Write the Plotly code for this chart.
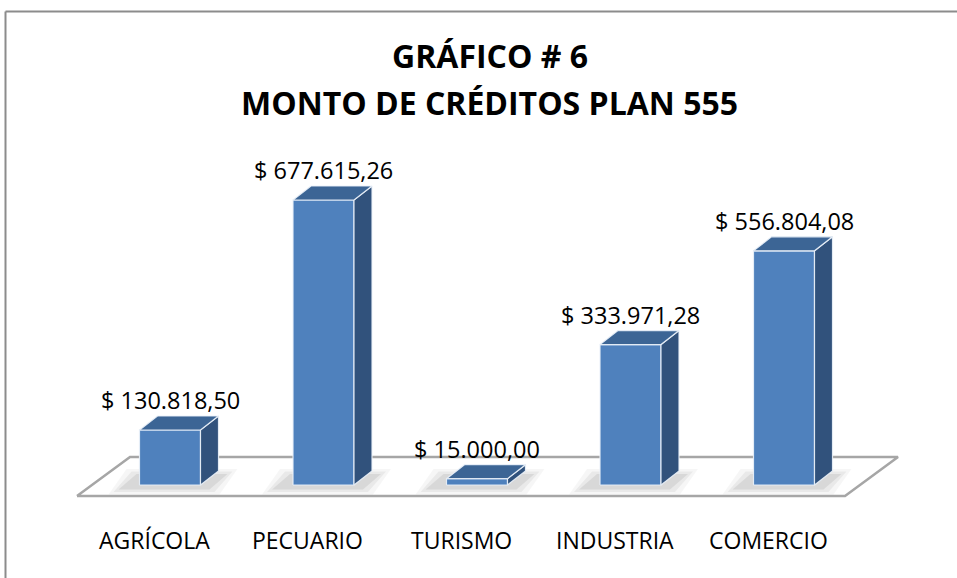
import plotly.graph_objects as go

# ---- data ----
categories = ["AGRÍCOLA", "PECUARIO", "TURISMO", "INDUSTRIA", "COMERCIO"]
values = [130818.50, 677615.26, 15000.00, 333971.28, 556804.08]
value_labels = ["$ 130.818,50", "$ 677.615,26", "$ 15.000,00", "$ 333.971,28", "$ 556.804,08"]
title_lines = ["GRÁFICO # 6", "MONTO DE CRÉDITOS PLAN 555"]

# ---- geometry (pixel-derived constants for the pseudo-3D look) ----
W, H = 957, 578
X_PX = 153.5            # pixels per category
X0_PX = 170             # pixel of first category centre
Y_BASE_PX = 485         # pixel of value 0
Y_PER_PX = max(values) / 285.0
half_w = 30.5 / X_PX
dx = 18 / X_PX
dy = 14 * Y_PER_PX

x_range = [-X0_PX / X_PX, (W - X0_PX) / X_PX]
y_range = [-(H - Y_BASE_PX) * Y_PER_PX, Y_BASE_PX * Y_PER_PX]

FRONT = "#4F81BD"
SIDE = "#31527C"
TOP = "#3C6595"
EDGE = "rgba(235,242,250,0.9)"

fig = go.Figure()

def poly(xs, ys, fill, line_color=None, lw=0):
    fig.add_trace(go.Scatter(
        x=xs + [xs[0]], y=ys + [ys[0]], mode="lines", fill="toself",
        fillcolor=fill, line=dict(color=line_color or fill, width=lw),
        hoverinfo="skip", showlegend=False))

# floor
f_front = -11 * Y_PER_PX
f_back = 28 * Y_PER_PX
fx_l, fx_r = (77 - X0_PX) / X_PX, (845 - X0_PX) / X_PX
fdx = 53 / X_PX
poly([fx_l, fx_r, fx_r + fdx, fx_l + fdx], [f_front, f_front, f_back, f_back],
     "white", "#a6a6a6", 2.5)

# soft shadows
for i, v in enumerate(values):
    for k, a in [(3, 0.035), (2, 0.05), (1, 0.07)]:
        ex = k * 5 / X_PX
        ey = k * 2.5 * Y_PER_PX
        xl = i - half_w - 16 / X_PX - ex
        xr = i + half_w + dx + 4 / X_PX + ex
        poly([xl, xr - dx, xr, xl + dx],
             [-2 * Y_PER_PX - ey, -2 * Y_PER_PX - ey, dy * 0.6 + ey, dy * 0.6 + ey],
             f"rgba(0,0,0,{a})")

# bars
for i, v in enumerate(values):
    xl, xr = i - half_w, i + half_w
    poly([xl, xr, xr, xl], [0, 0, v, v], FRONT, EDGE, 1.2)
    poly([xr, xr + dx, xr + dx, xr], [0, dy, v + dy, v], SIDE, EDGE, 1.2)
    poly([xl, xr, xr + dx, xl + dx], [v, v, v + dy, v + dy], TOP, EDGE, 1.2)

annotations = []
for i, (v, lab) in enumerate(zip(values, value_labels)):
    annotations.append(dict(x=i, y=v + dy, xref="x", yref="y", text=lab,
                            showarrow=False, yanchor="middle", yshift=16,
                            font=dict(family="Open Sans", size=23.5, color="black")))
for i, c in enumerate(categories):
    annotations.append(dict(x=i - 16 / X_PX, y=1 - 540 / H, xref="x", yref="paper", text=c,
                            showarrow=False, yanchor="middle",
                            font=dict(family="Open Sans", size=23, color="black")))
for j, t in enumerate(title_lines):
    annotations.append(dict(x=490 / W, y=1 - (55 + 47 * j) / H, xref="paper", yref="paper",
                            text=f"<b>{t}</b>", showarrow=False, yanchor="middle",
                            font=dict(family="Open Sans", size=32, color="black")))

border = dict(color="#8c8c8c", width=2)
fig.update_layout(
    width=W, height=H, margin=dict(l=0, r=0, t=0, b=0),
    paper_bgcolor="white", plot_bgcolor="white",
    xaxis=dict(range=x_range, visible=False, fixedrange=True),
    yaxis=dict(range=y_range, visible=False, fixedrange=True),
    annotations=annotations,
    shapes=[
        dict(type="line", xref="paper", yref="paper", x0=5.5 / W, x1=1,
             y0=1 - 11.5 / H, y1=1 - 11.5 / H, line=border),
        dict(type="line", xref="paper", yref="paper", x0=5.5 / W, x1=5.5 / W,
             y0=0, y1=1 - 11.5 / H, line=border),
    ],
)
fig.write_html("out.html", config={"displayModeBar": False},
               post_script="document.body.style.margin='0';document.body.style.overflow='hidden';")
